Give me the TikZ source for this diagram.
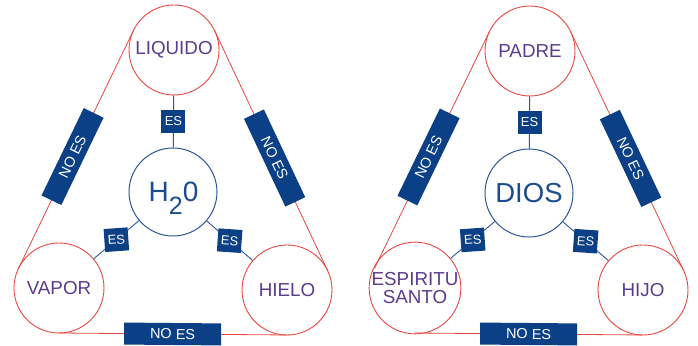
\documentclass[tikz,border=0pt]{standalone}
\usepackage{fontspec}
\setmainfont{Liberation Sans}
\usetikzlibrary{calc}
\definecolor{redc}{HTML}{E8463E}
\definecolor{navy}{HTML}{0B3F86}
\definecolor{bluel}{HTML}{2A5898}
\definecolor{purp}{HTML}{5B3C8C}
\definecolor{ctext}{HTML}{1B4C8E}
\begin{document}
\begin{tikzpicture}[x=1pt,y=1pt,
 outer/.style={circle,draw=redc,line width=0.9pt,minimum size=90pt,inner sep=0pt,text=purp,font=\fontsize{18.8}{17.5}\selectfont,align=center},
 inner/.style={circle,draw=bluel,line width=1pt,minimum size=88pt,inner sep=0pt},
 redline/.style={draw=redc,line width=0.8pt},
 blueline/.style={draw=bluel,line width=0.9pt},
 noes/.style={fill=navy,text=white,minimum width=97pt,minimum height=22pt,inner sep=0pt,font=\fontsize{14.5}{14.5}\selectfont},
 esbox/.style={fill=navy,text=white,minimum width=24pt,minimum height=23pt,inner sep=0pt,font=\fontsize{13}{13}\selectfont}]
\useasboundingbox (0,0) rectangle (698,345);
% ---------- left diagram ----------
\node[outer] (L1) at (174,295) {LIQUIDO};
\node[outer] (V1) at (59,57) {VAPOR};
\node[outer] (I1) at (287,55) {HIELO};
\node[inner] (C1) at (173,153) {};
\node[text=ctext,anchor=base,font=\fontsize{28}{28}\selectfont,inner sep=0pt] (T1) at (173.5,143.3) {H\raisebox{-13pt}{\fontsize{25}{25}\selectfont 2}0};
\draw[redline] ($(L1)!45pt!-90:(V1)$) -- ($(V1)!45pt!90:(L1)$) node[noes,sloped,pos=0.53] (n1) {NO ES};
\draw[redline] ($(V1)!45pt!-90:(I1)$) -- ($(I1)!45pt!90:(V1)$) node[noes,sloped,pos=0.5] (n2) {NO ES};
\draw[redline] ($(I1)!45pt!-90:(L1)$) -- ($(L1)!45pt!90:(I1)$) node[noes,sloped,pos=0.47] (n3) {NO ES};
\draw[blueline] (L1) -- (C1) node[esbox,midway] (e1) {ES};
\draw[blueline] (C1) -- (V1) node[esbox,midway,rotate=4] (e2) {ES};
\draw[blueline] (C1) -- (I1) node[esbox,midway,rotate=-4] (e3) {ES};
% ---------- right diagram ----------
\node[outer] (L2) at (530,294) {PADRE};
\node[outer] (V2) at (415,57) {ESPIRITU\\SANTO};
\node[outer] (I2) at (643,55) {HIJO};
\node[inner,text=ctext,font=\fontsize{27.5}{27.5}\selectfont] (C2) at (529,152) {DIOS};
\draw[redline] ($(L2)!45pt!-90:(V2)$) -- ($(V2)!45pt!90:(L2)$) node[noes,sloped,pos=0.53] (n4) {NO ES};
\draw[redline] ($(V2)!45pt!-90:(I2)$) -- ($(I2)!45pt!90:(V2)$) node[noes,sloped,pos=0.5] (n5) {NO ES};
\draw[redline] ($(I2)!45pt!-90:(L2)$) -- ($(L2)!45pt!90:(I2)$) node[noes,sloped,pos=0.47] (n6) {NO ES};
\draw[blueline] (L2) -- (C2) node[esbox,midway] (e4) {ES};
\draw[blueline] (C2) -- (V2) node[esbox,midway,rotate=4] (e5) {ES};
\draw[blueline] (C2) -- (I2) node[esbox,midway,rotate=-4] (e6) {ES};
\end{tikzpicture}
\end{document}
